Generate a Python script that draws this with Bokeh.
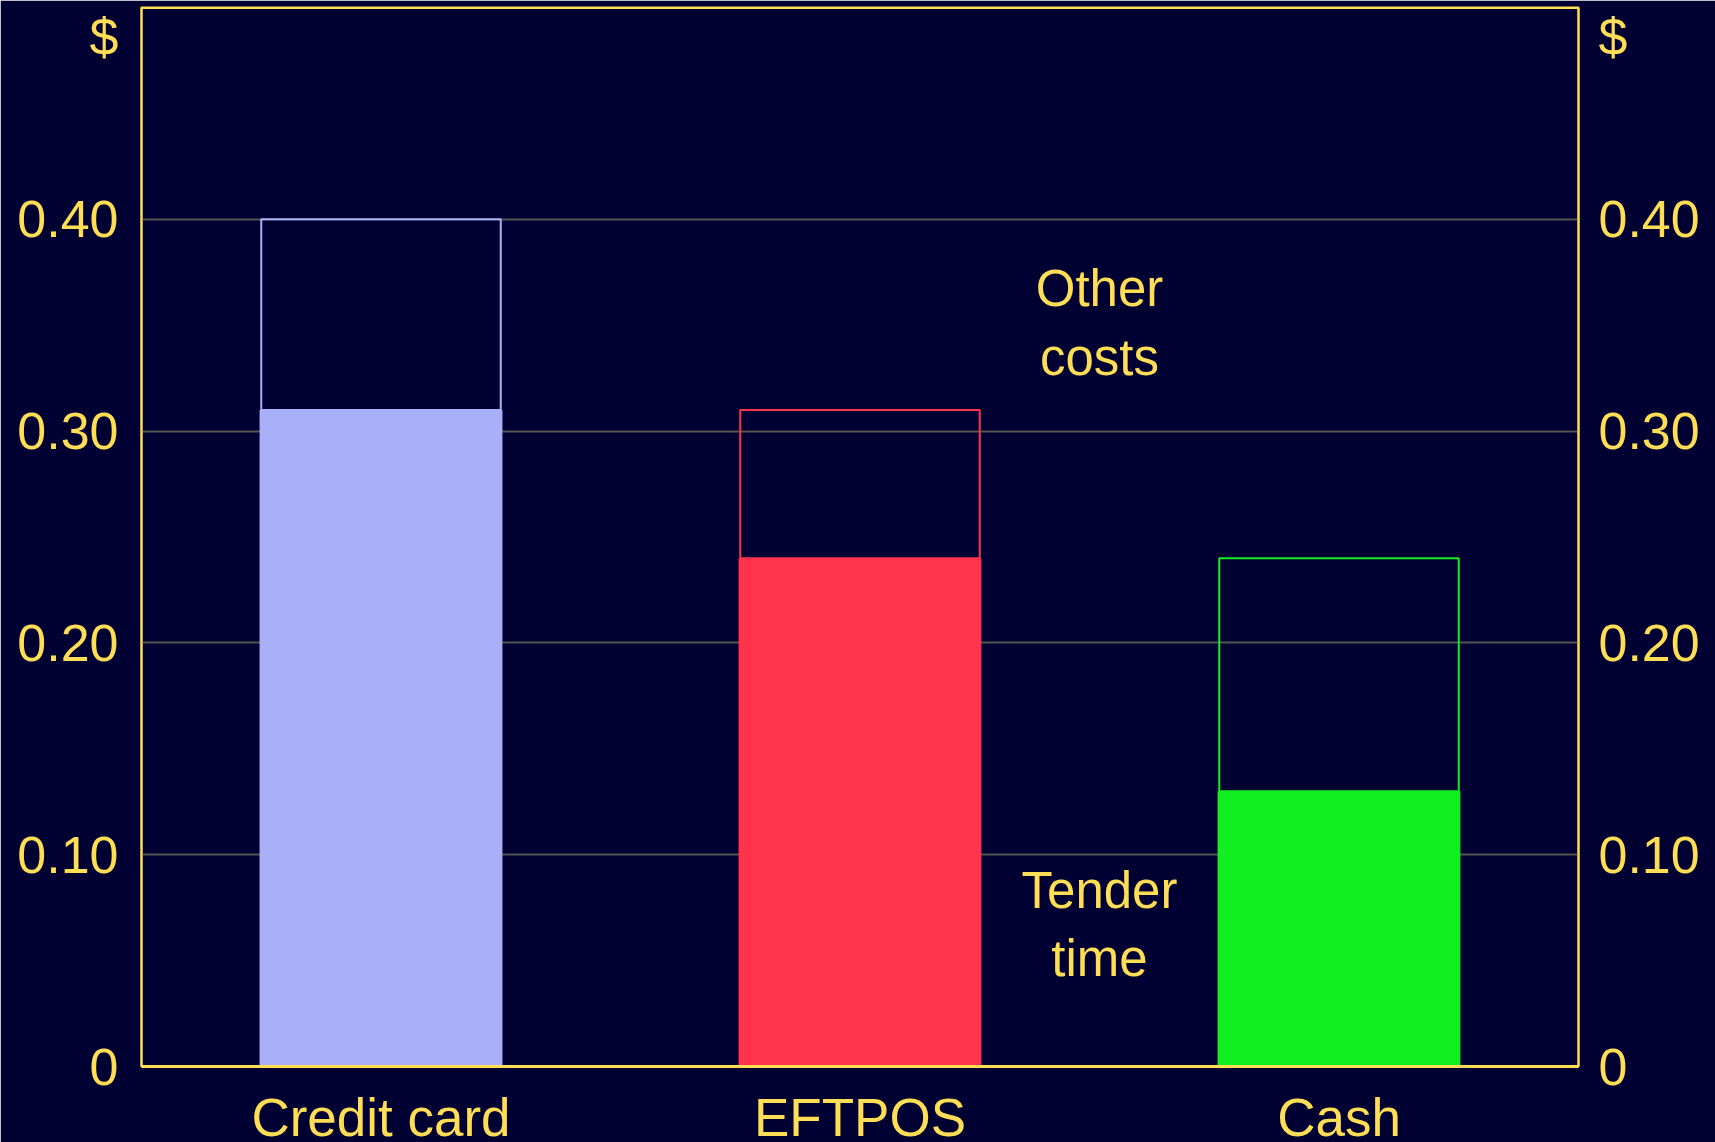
from bokeh.plotting import figure
from bokeh.models import (ColumnDataSource, FixedTicker, LinearAxis, Span,
                          Range1d, FactorRange)
from bokeh.core.properties import value
from bokeh.embed import file_html
from bokeh.resources import INLINE

categories = ["Credit card", "EFTPOS", "Cash"]
tender_time = [0.31, 0.24, 0.13]
total_cost = [0.40, 0.31, 0.24]
bar_colors = ["#AAB0F8", "#FF3349", "#11EE22"]
y_ticks = [0, 0.1, 0.2, 0.3, 0.4]
y_tick_labels = ["0", "0.10", "0.20", "0.30", "0.40"]
unit_label = "$"
unit_pos = 0.486

BG = "#000033"
YEL = "#FFDD55"
FONT = "Liberation Sans"

src = ColumnDataSource(dict(cat=categories, tender=tender_time, total=total_cost,
                            color=bar_colors))

p = figure(x_range=FactorRange(factors=categories, range_padding=0),
           y_range=Range1d(0, 0.5),
           width=1715, height=1149, output_backend="svg", toolbar_location=None,
           min_border_left=141, min_border_right=137, min_border_top=7,
           min_border_bottom=77)

p.background_fill_color = BG
p.border_fill_color = BG
p.outline_line_color = YEL
p.outline_line_width = 2

# filled tender-time bars
p.vbar(x="cat", top="tender", bottom=0, width=0.507, source=src,
       fill_color="color", line_color=None)
# outlined other-cost boxes
p.vbar(x="cat", top="total", bottom="tender", width=0.5, source=src,
       fill_color=None, line_color="color", line_width=2)

# grid
p.xgrid.grid_line_color = None
p.ygrid.grid_line_color = "#555550"
p.ygrid.grid_line_width = 2
p.ygrid.ticker = FixedTicker(ticks=y_ticks[1:])

overrides = {t: l for t, l in zip(y_ticks, y_tick_labels)}
overrides[unit_pos] = unit_label

def style_y(ax, standoff):
    ax.ticker = FixedTicker(ticks=y_ticks + [unit_pos])
    ax.major_label_overrides = overrides
    ax.major_tick_line_color = None
    ax.minor_tick_line_color = None
    ax.axis_line_color = YEL
    ax.axis_line_width = 2
    ax.major_label_text_color = YEL
    ax.major_label_text_font = FONT
    ax.major_label_text_font_size = "52px"
    ax.major_label_standoff = standoff

style_y(p.yaxis[0], 17)
ry = LinearAxis()
style_y(ry, 14)
p.add_layout(ry, "right")

xa = p.xaxis[0]
xa.major_tick_line_color = None
xa.minor_tick_line_color = None
xa.axis_line_color = YEL
xa.axis_line_width = 3
xa.major_label_text_color = YEL
xa.major_label_text_font = FONT
xa.major_label_text_font_size = "53px"
xa.major_label_standoff = 15

p.add_layout(Span(location=0.5, dimension="width", line_color=YEL, line_width=3))

# annotations
p.text(x=[2.0, 2.0], y=[0.351, 0.067], text=["Other\ncosts", "Tender\ntime"],
       text_color=YEL, text_font=value(FONT), text_font_size="51px",
       text_align="center", text_baseline="middle", text_line_height=1.2)

html = file_html(p, INLINE)
html = html.replace("<body>",
                    '<body style="background-color:#000033; overflow:hidden;">', 1)
html = html.replace("<html", '<html style="overflow:hidden;"', 1) if "<html" in html else html
open("out.html", "w").write(html)
